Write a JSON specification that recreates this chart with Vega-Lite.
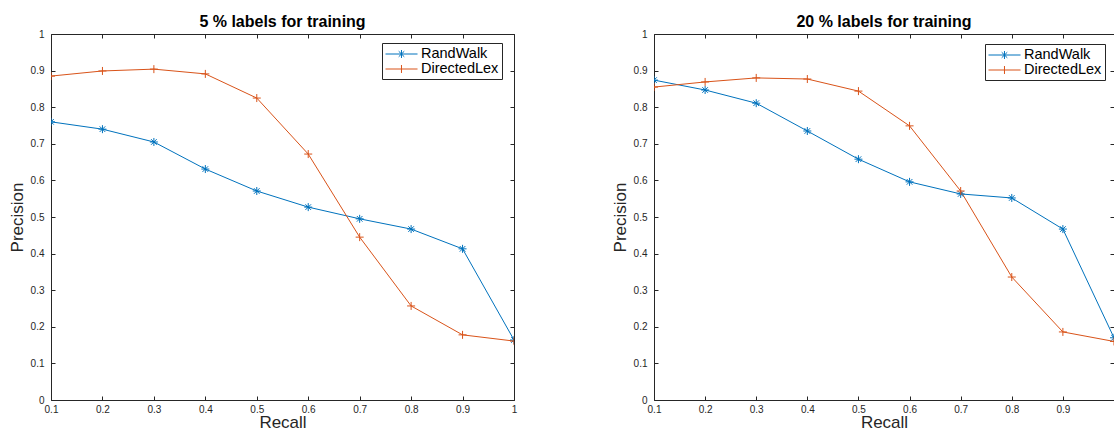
{
  "$schema": "https://vega.github.io/schema/vega-lite/v6.json",
  "padding": {"left": 8, "top": 14, "right": 0, "bottom": 0},
  "background": "white",
  "datasets": {
    "p5": [
      {"recall": 0.1, "precision": 0.760, "method": "RandWalk"},
      {"recall": 0.2, "precision": 0.740, "method": "RandWalk"},
      {"recall": 0.3, "precision": 0.705, "method": "RandWalk"},
      {"recall": 0.4, "precision": 0.631, "method": "RandWalk"},
      {"recall": 0.5, "precision": 0.571, "method": "RandWalk"},
      {"recall": 0.6, "precision": 0.527, "method": "RandWalk"},
      {"recall": 0.7, "precision": 0.495, "method": "RandWalk"},
      {"recall": 0.8, "precision": 0.467, "method": "RandWalk"},
      {"recall": 0.9, "precision": 0.413, "method": "RandWalk"},
      {"recall": 1.0, "precision": 0.164, "method": "RandWalk"},
      {"recall": 0.1, "precision": 0.885, "method": "DirectedLex"},
      {"recall": 0.2, "precision": 0.899, "method": "DirectedLex"},
      {"recall": 0.3, "precision": 0.904, "method": "DirectedLex"},
      {"recall": 0.4, "precision": 0.891, "method": "DirectedLex"},
      {"recall": 0.5, "precision": 0.825, "method": "DirectedLex"},
      {"recall": 0.6, "precision": 0.672, "method": "DirectedLex"},
      {"recall": 0.7, "precision": 0.445, "method": "DirectedLex"},
      {"recall": 0.8, "precision": 0.257, "method": "DirectedLex"},
      {"recall": 0.9, "precision": 0.178, "method": "DirectedLex"},
      {"recall": 1.0, "precision": 0.161, "method": "DirectedLex"}
    ],
    "p20": [
      {"recall": 0.1, "precision": 0.874, "method": "RandWalk"},
      {"recall": 0.2, "precision": 0.847, "method": "RandWalk"},
      {"recall": 0.3, "precision": 0.811, "method": "RandWalk"},
      {"recall": 0.4, "precision": 0.735, "method": "RandWalk"},
      {"recall": 0.5, "precision": 0.658, "method": "RandWalk"},
      {"recall": 0.6, "precision": 0.596, "method": "RandWalk"},
      {"recall": 0.7, "precision": 0.563, "method": "RandWalk"},
      {"recall": 0.8, "precision": 0.552, "method": "RandWalk"},
      {"recall": 0.9, "precision": 0.467, "method": "RandWalk"},
      {"recall": 1.0, "precision": 0.170, "method": "RandWalk"},
      {"recall": 0.1, "precision": 0.855, "method": "DirectedLex"},
      {"recall": 0.2, "precision": 0.869, "method": "DirectedLex"},
      {"recall": 0.3, "precision": 0.880, "method": "DirectedLex"},
      {"recall": 0.4, "precision": 0.877, "method": "DirectedLex"},
      {"recall": 0.5, "precision": 0.844, "method": "DirectedLex"},
      {"recall": 0.6, "precision": 0.749, "method": "DirectedLex"},
      {"recall": 0.7, "precision": 0.571, "method": "DirectedLex"},
      {"recall": 0.8, "precision": 0.336, "method": "DirectedLex"},
      {"recall": 0.9, "precision": 0.186, "method": "DirectedLex"},
      {"recall": 1.0, "precision": 0.160, "method": "DirectedLex"}
    ]
  },
  "hconcat": [
    {
      "data": {"name": "p5"},
      "width": 463,
      "height": 366,
      "title": {"text": "5 % labels for training"},
      "layer": [
        {
          "mark": {"type": "line", "strokeWidth": 1, "clip": true},
          "encoding": {
            "x": {"field": "recall", "type": "quantitative", "scale": {"domain": [0.1, 1], "nice": false, "zero": false}, "axis": {"orient": "bottom", "title": "Recall", "values": [0.1,0.2,0.3,0.4,0.5,0.6,0.7,0.8,0.9,1]}},
            "y": {"field": "precision", "type": "quantitative", "scale": {"domain": [0, 1], "nice": false}, "axis": {"orient": "left", "title": "Precision", "values": [0,0.1,0.2,0.3,0.4,0.5,0.6,0.7,0.8,0.9,1]}},
            "color": {"field": "method", "type": "nominal", "title": null, "scale": {"domain": ["RandWalk", "DirectedLex"], "range": ["#0072BD", "#D95319"]}}
          }
        },
        {
          "transform": [{"filter": "datum.method === 'RandWalk'"}],
          "mark": {"type": "point", "shape": "M-1,0L1,0M0,-1L0,1M-0.7,-0.7L0.7,0.7M-0.7,0.7L0.7,-0.7", "size": 64, "filled": false, "strokeWidth": 1, "opacity": 1, "clip": true},
          "encoding": {
            "x": {"field": "recall", "type": "quantitative", "axis": {"orient": "top", "title": null, "labels": false, "values": [0.1,0.2,0.3,0.4,0.5,0.6,0.7,0.8,0.9,1]}},
            "y": {"field": "precision", "type": "quantitative", "axis": {"orient": "right", "title": null, "labels": false, "values": [0,0.1,0.2,0.3,0.4,0.5,0.6,0.7,0.8,0.9,1]}},
            "color": {"field": "method", "type": "nominal", "title": null}
          }
        },
        {
          "transform": [{"filter": "datum.method === 'DirectedLex'"}],
          "mark": {"type": "point", "shape": "M-1,0L1,0M0,-1L0,1", "size": 64, "filled": false, "strokeWidth": 1, "opacity": 1, "clip": true},
          "encoding": {
            "x": {"field": "recall", "type": "quantitative", "axis": null},
            "y": {"field": "precision", "type": "quantitative", "axis": null},
            "color": {"field": "method", "type": "nominal", "title": null}
          }
        },
        {
          "mark": {"type": "point", "filled": false, "strokeWidth": 1, "opacity": 0},
          "encoding": {
            "x": {"field": "recall", "type": "quantitative", "axis": null},
            "y": {"field": "precision", "type": "quantitative", "axis": null},
            "color": {"field": "method", "type": "nominal", "title": null},
            "shape": {"field": "method", "type": "nominal", "title": null, "scale": {"domain": ["RandWalk", "DirectedLex"], "range": ["M-1,0L3.27,0M1.13,-0.53L1.13,0.53M0.76,-0.37L1.5,0.37M0.76,0.37L1.5,-0.37", "M-1,0L3.27,0M1.13,-0.53L1.13,0.53"]},
              "legend": {"orient": "none", "legendX": 331, "legendY": 9, "symbolOpacity": 1}}
          }
        }
      ],
      "resolve": {"axis": {"x": "independent", "y": "independent"}}
    },
    {
      "data": {"name": "p20"},
      "width": 460,
      "height": 366,
      "title": {"text": "20 % labels for training"},
      "layer": [
        {
          "mark": {"type": "line", "strokeWidth": 1, "clip": true},
          "encoding": {
            "x": {"field": "recall", "type": "quantitative", "scale": {"domain": [0.1, 1], "nice": false, "zero": false}, "axis": {"orient": "bottom", "title": "Recall", "values": [0.1,0.2,0.3,0.4,0.5,0.6,0.7,0.8,0.9]}},
            "y": {"field": "precision", "type": "quantitative", "scale": {"domain": [0, 1], "nice": false}, "axis": {"orient": "left", "title": "Precision", "values": [0,0.1,0.2,0.3,0.4,0.5,0.6,0.7,0.8,0.9,1]}},
            "color": {"field": "method", "type": "nominal", "title": null, "scale": {"domain": ["RandWalk", "DirectedLex"], "range": ["#0072BD", "#D95319"]}}
          }
        },
        {
          "transform": [{"filter": "datum.method === 'RandWalk'"}],
          "mark": {"type": "point", "shape": "M-1,0L1,0M0,-1L0,1M-0.7,-0.7L0.7,0.7M-0.7,0.7L0.7,-0.7", "size": 64, "filled": false, "strokeWidth": 1, "opacity": 1, "clip": true},
          "encoding": {
            "x": {"field": "recall", "type": "quantitative", "axis": {"orient": "top", "title": null, "labels": false, "values": [0.1,0.2,0.3,0.4,0.5,0.6,0.7,0.8,0.9]}},
            "y": {"field": "precision", "type": "quantitative", "axis": {"orient": "right", "title": null, "labels": false, "values": [0,0.1,0.2,0.3,0.4,0.5,0.6,0.7,0.8,0.9,1]}},
            "color": {"field": "method", "type": "nominal", "title": null}
          }
        },
        {
          "transform": [{"filter": "datum.method === 'DirectedLex'"}],
          "mark": {"type": "point", "shape": "M-1,0L1,0M0,-1L0,1", "size": 64, "filled": false, "strokeWidth": 1, "opacity": 1, "clip": true},
          "encoding": {
            "x": {"field": "recall", "type": "quantitative", "axis": null},
            "y": {"field": "precision", "type": "quantitative", "axis": null},
            "color": {"field": "method", "type": "nominal", "title": null}
          }
        },
        {
          "mark": {"type": "point", "filled": false, "strokeWidth": 1, "opacity": 0},
          "encoding": {
            "x": {"field": "recall", "type": "quantitative", "axis": null},
            "y": {"field": "precision", "type": "quantitative", "axis": null},
            "color": {"field": "method", "type": "nominal", "title": null},
            "shape": {"field": "method", "type": "nominal", "title": null, "scale": {"domain": ["RandWalk", "DirectedLex"], "range": ["M-1,0L3.27,0M1.13,-0.53L1.13,0.53M0.76,-0.37L1.5,0.37M0.76,0.37L1.5,-0.37", "M-1,0L3.27,0M1.13,-0.53L1.13,0.53"]},
              "legend": {"orient": "none", "legendX": 331, "legendY": 10, "symbolOpacity": 1}}
          }
        }
      ],
      "resolve": {"axis": {"x": "independent", "y": "independent"}}
    }
  ],
  "resolve": {"scale": {"color": "independent", "shape": "independent"}, "legend": {"color": "independent", "shape": "independent"}},
  "spacing": 88,
  "config": {
    "font": "Liberation Sans",
    "view": {"stroke": null},
    "title": {"fontSize": 16, "fontWeight": "bold", "color": "#000000", "font": "Liberation Sans", "offset": -1, "anchor": "middle", "frame": "group"},
    "axis": {
      "format": "~g",
      "grid": false,
      "labelFlush": false,
      "domainColor": "#262626",
      "domainWidth": 1,
      "tickColor": "#262626",
      "tickSize": -4,
      "tickWidth": 1,
      "labelColor": "#262626",
      "labelFontSize": 10,
      "labelFont": "Liberation Sans",
      "titleColor": "#262626",
      "titleFontSize": 17,
      "titleFontWeight": "normal",
      "titleFont": "Liberation Sans"
    },
    "axisX": {"titlePadding": 0, "labelPadding": 8},
    "axisY": {"titlePadding": 4, "labelPadding": 11},
    "legend": {
      "labelFontSize": 14.5,
      "labelFont": "Liberation Sans",
      "labelColor": "#000000",
      "symbolSize": 225,
      "symbolStrokeWidth": 1,
      "strokeColor": "#262626",
      "fillColor": "#ffffff",
      "padding": 3,
      "rowPadding": 0,
      "labelOffset": 20
    }
  }
}
